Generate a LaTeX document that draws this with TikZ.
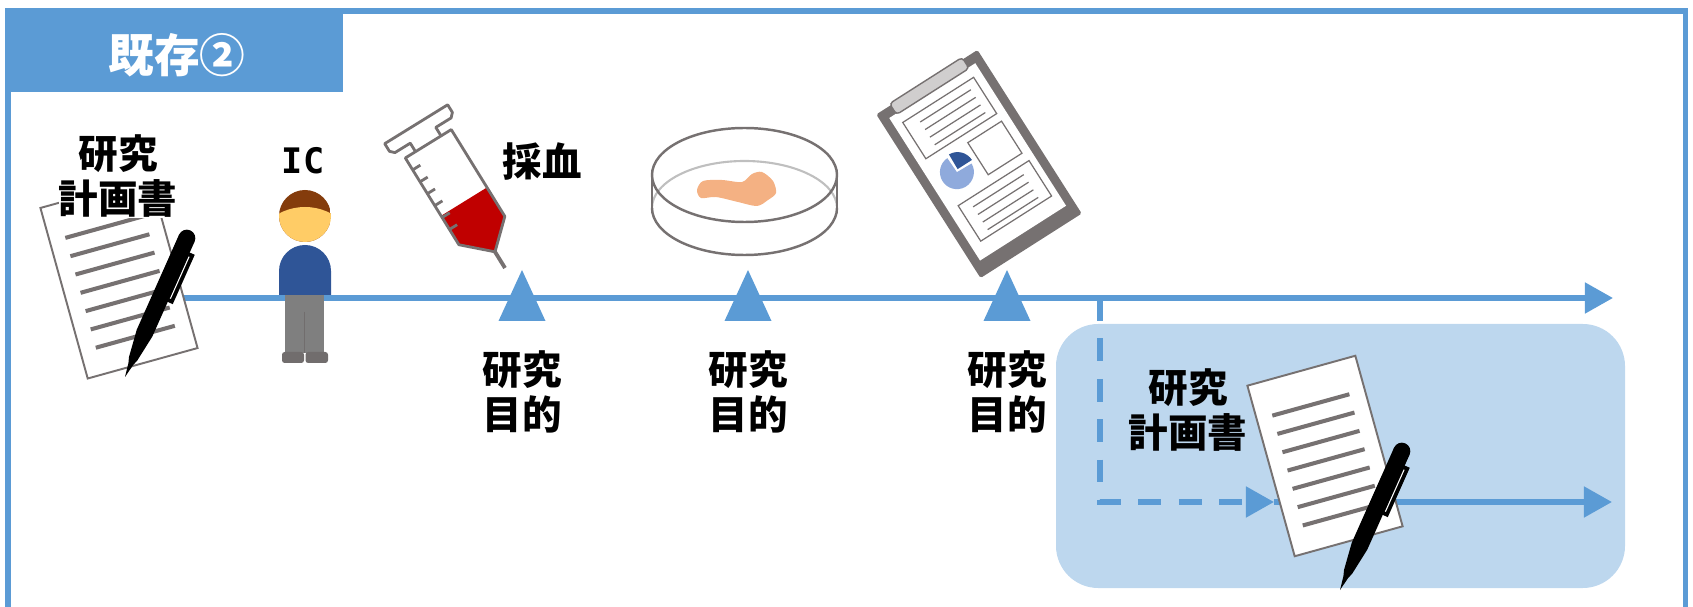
\documentclass[tikz,border=0pt]{standalone}
\usepackage{fontspec}
\newfontfamily\jpfont{Noto Sans CJK JP}
\newfontfamily\icfont{DejaVu Sans Mono}
\usetikzlibrary{arrows.meta,positioning}

\definecolor{lineblue}{HTML}{5B9BD5}
\definecolor{boxblue}{HTML}{BDD7EE}
\definecolor{icongray}{HTML}{767171}
\definecolor{rimgray}{HTML}{BFBFBF}
\definecolor{clipgray}{HTML}{D0CECE}
\definecolor{blood}{HTML}{C00000}
\definecolor{hair}{HTML}{843C0C}
\definecolor{skin}{HTML}{FFCC66}
\definecolor{shirt}{HTML}{2F5597}
\definecolor{pants}{HTML}{7F7F7F}
\definecolor{shoe}{HTML}{716D6D}
\definecolor{tissue}{HTML}{F4B183}
\definecolor{pielight}{HTML}{8FAADC}

\tikzset{
  lbl/.style={font=\jpfont\bfseries\fontsize{22.5pt}{26pt}\selectfont, align=center, inner sep=0pt},
  flow/.style={draw=lineblue, line width=3.2pt, -{Triangle[length=16pt,width=17pt]}},
  thin/.style={icongray, line width=0.7pt},
  pics/doc/.style={code={
    \filldraw[fill=white, draw=icongray, line width=1.1pt] ({-#1/2},-88.5) rectangle ({#1/2},88.5);
    \foreach \b in {-53,-34,...,61}
      \draw[icongray, line width=2.3pt] ({-#1/2+16},\b) -- ({#1/2-16},\b);
  }},
  pics/pen/.style={code={
    \fill[black] (0,0) -- (2.5,-14) -- (4.5,-20) -- (8.5,-48) -- (8.5,-152)
      -- (-8.5,-152) -- (-8.5,-48) -- (-4.5,-20) -- (-2.5,-14) -- cycle;
    \fill[black] (0,-152) circle[radius=8.5];
    \fill[black] (8,-86) rectangle (14,-140);
    \draw[white, line width=0.6pt] (9.6,-90) -- (9.6,-136);
  }},
}

\begin{document}
\begin{tikzpicture}[x=0.02cm, y=-0.02cm]
\useasboundingbox (0,0) rectangle (1693,607);

% frame and title
\draw[lineblue, line width=3.1pt] (8,640) -- (8,11) -- (1685.5,11) -- (1685.5,640);
\fill[lineblue] (5,8) rectangle (343,92);
\node[lbl, font=\jpfont\bfseries\fontsize{26pt}{30pt}\selectfont, text=white] (title) at (177,55) {既存②};

\fill[boxblue, rounded corners=24pt] (1056,324) rectangle (1625,588);

% time line
\coordinate (start) at (100,298);
\coordinate (end) at (1613,298);
\coordinate (branch) at (1100,298);
\coordinate (reuse) at (1274,502);
\coordinate (out) at (1612,502);

\draw[flow] (start) -- (end);
\draw[flow, dash pattern=on 13pt off 10pt] (branch) |- (reuse);
\draw[flow] (reuse) -- (out);

\foreach \x/\n in {522/a, 748/b, 1007/c} {
  \fill[lineblue] (\x-23.5,321) -- (\x,270) -- (\x+23.5,321) -- cycle;
  \node[lbl] (aim\n) at (\x,392) {研究\\目的};
}

% plan + pen
\pic[rotate=15.5] at (119,278) {doc=114};
\pic[rotate=-24] at (125,377) {pen};
\node[lbl, fill=white] (plan) at (118,176) {研究\\計画書};

% person
\fill[pants] (285,290) rectangle (324,353);
\draw[shoe, line width=0.6pt] (304.5,312) -- (304.5,353);
\fill[shoe, rounded corners=1.5pt] (282,352) rectangle (304,363);
\fill[shoe, rounded corners=1.5pt] (305.5,352) rectangle (328,363);
\fill[shirt] (279,295) -- (279,271) arc[start angle=180, end angle=360, radius=26] -- (331,295) -- cycle;
\begin{scope}
  \clip (305,216) circle[radius=26];
  \fill[hair] (279,188) rectangle (331,242);
  \fill[skin] (305,262) circle[radius=55];
\end{scope}
\node[font=\icfont\bfseries\fontsize{20pt}{24pt}\selectfont, inner sep=0pt] (ic) at (303,161) {IC};

% syringe
\begin{scope}[shift={(505,268)}, rotate=31.7]
  \fill[blood] (-27,-78) -- (27,-78) -- (27,-44) -- (0,-19) -- (-27,-44) -- cycle;
  \draw[icongray, line width=2.2pt] (0,0) -- (0,-19);
  \draw[icongray, line width=1.6pt, line join=round]
    (0,-19) -- (27,-44) -- (27,-146) -- (-27,-146) -- (-27,-44) -- cycle;
  \draw[icongray, line width=1.6pt, line join=round]
    (-15,-146) -- (-15,-156) -- (-33,-156) -- (-37,-160) -- (-37,-169)
    -- (37,-169) -- (37,-160) -- (33,-156) -- (15,-156) -- (15,-146);
  \foreach \t in {62,76,...,132}
    \draw[icongray, line width=1.6pt] (-27,-\t) -- (-18,-\t);
\end{scope}
\node[lbl] (blood) at (542,162) {採血};

% dish
\draw[rimgray, line width=1.2pt] (652,208) arc[start angle=180, end angle=360, x radius=92.5, y radius=47];
\fill[tissue] plot[smooth cycle] coordinates {(697,190) (703,181) (722,180) (742,182) (752,174) (762,172)
  (773,181) (776,193) (768,200) (757,206) (738,202) (716,197) (701,198)};
\draw[icongray, line width=1.4pt] (652,208) arc[start angle=180, end angle=0, x radius=92.5, y radius=47];
\draw[icongray, line width=1.4pt] (744.5,175) ellipse[x radius=92.5, y radius=47];
\draw[icongray, line width=1.4pt] (652,175) -- (652,208) (837,175) -- (837,208);

% clipboard
\begin{scope}[shift={(979,164)}, rotate=32.5]
  \fill[icongray, rounded corners=1pt] (-60,-97) rectangle (60,97);
  \fill[white] (-51,-87) rectangle (51,82);
  \filldraw[fill=clipgray, draw=icongray, line width=0.8pt, rounded corners=2pt] (-43,-99) rectangle (43,-86);
  \draw[thin] (-42,-76) rectangle (42,-33);
  \foreach \b in {-67,-58,-49,-40} \draw[thin] (-27,\b) -- (33,\b);
  \draw[thin] (2,-24) rectangle (42,14);
  \fill[pielight] (-23,-5) -- ++(2:17) arc[start angle=2, end angle=268, radius=17] -- cycle;
  \fill[shirt] (-20.8,-7.2) -- ++(0:17) arc[start angle=0, end angle=-88, radius=17] -- cycle;
  \draw[thin] (-40,24) rectangle (44,66);
  \foreach \b in {33,42,51,60} \draw[thin] (-28,\b) -- (32,\b);
\end{scope}

% new plan in the box
\pic[rotate=15.5] at (1325,456) {doc=112};
\pic[rotate=-24] at (1340,590) {pen};
\node[lbl] (plan2) at (1188,410) {研究\\計画書};
\end{tikzpicture}
\end{document}
